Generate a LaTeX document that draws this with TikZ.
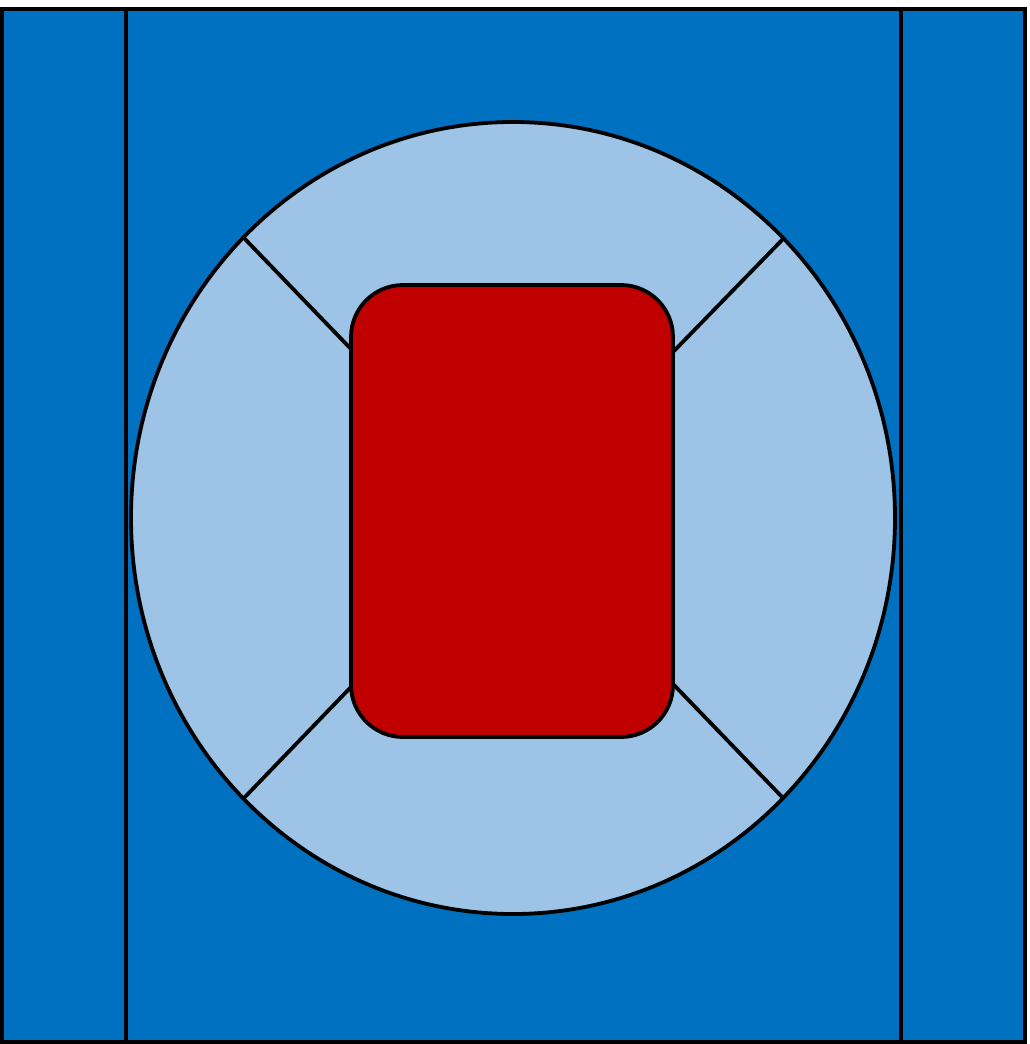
\documentclass[tikz,border=0pt]{standalone}
\begin{document}
\begin{tikzpicture}[x=1pt,y=-1pt,
  edge/.style={draw=black,line width=3.8pt},
  blue/.style={fill={rgb,255:red,0;green,112;blue,192}},
  light/.style={fill={rgb,255:red,157;green,195;blue,230}},
  redf/.style={fill={rgb,255:red,192;green,0;blue,0}}]
\useasboundingbox (0,0) rectangle (1029,1044);
\fill[white] (0,0) rectangle (1029,1044);
\draw[edge,blue] (2,9) rectangle (1025,1042);
\draw[edge] (126,9) -- (126,1042);
\draw[edge] (901,9) -- (901,1042);
\draw[edge,light] (513,518) ellipse [x radius=382, y radius=396];
\coordinate (e1) at (244,238);
\coordinate (e2) at (783,239);
\coordinate (e3) at (244,798);
\coordinate (e4) at (783,798);
\coordinate (r1) at (351,349);
\coordinate (r2) at (673,352);
\coordinate (r3) at (351,687);
\coordinate (r4) at (673,684);
\draw[edge] (e1) -- (r1);
\draw[edge] (e2) -- (r2);
\draw[edge] (e3) -- (r3);
\draw[edge] (e4) -- (r4);
\draw[edge,redf,rounded corners=52pt] (351,285) rectangle (673,737);
\end{tikzpicture}
\end{document}
